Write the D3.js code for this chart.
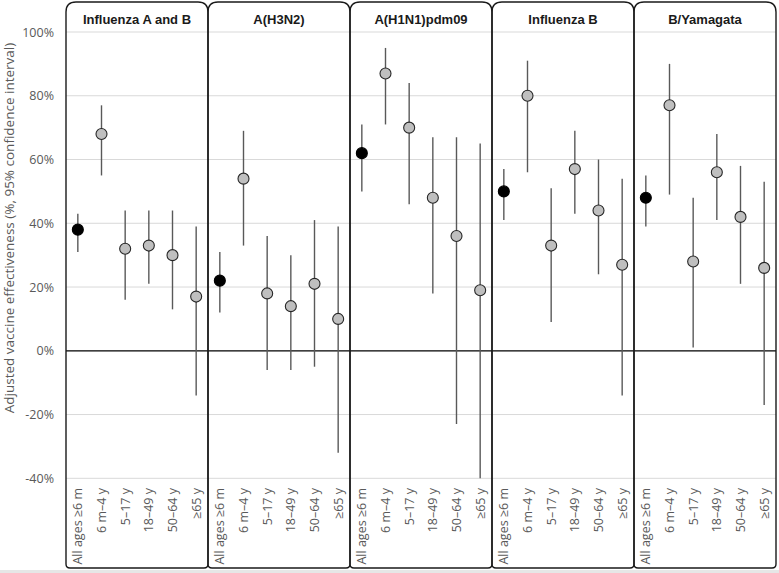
<!DOCTYPE html>
<html><head><meta charset="utf-8">
<script src="https://cdn.jsdelivr.net/npm/d3@7"></script>
<style>body{margin:0;background:#fff}svg{display:block}</style>
</head><body>
<script>
const panels = ["Influenza A and B","A(H3N2)","A(H1N1)pdm09","Influenza B","B/Yamagata"];
const ageGroups = ["All ages \u22656 m","6 m\u20134 y","5\u201317 y","18\u201349 y","50\u201364 y","\u226565 y"];
const yTicks = [-40,-20,0,20,40,60,80,100];
// point estimates, lower and upper CI, per panel (in ageGroups order)
const ve = [[38,68,32,33,30,17],[22,54,18,14,21,10],[62,87,70,48,36,19],[50,80,33,57,44,27],[48,77,28,56,42,26]];
const ciLow = [[31,55,16,21,13,-14],[12,33,-6,-6,-5,-32],[50,71,46,18,-23,-40],[41,56,9,43,24,-14],[39,49,1,41,21,-17]];
const ciHigh = [[43,77,44,44,44,39],[31,69,36,30,41,39],[71,95,84,67,67,65],[57,91,51,69,60,54],[55,90,48,68,58,53]];

const W=779,H=573;
const svg=d3.select("body").append("svg").attr("width",W).attr("height",H);
const keys=[];panels.forEach((p,i)=>ageGroups.forEach((a,j)=>keys.push(i+"|"+j)));
const x=d3.scaleBand().domain(keys).range([66,776]).padding(0);
const y=d3.scaleLinear().domain([-40,100]).range([478.3,32]);
const bw=x.bandwidth();
const cx=(i,j)=>x(i+"|"+j)+bw/2;

svg.append("rect").attr("x",0).attr("y",570).attr("width",W).attr("height",3).attr("fill","#e6e6e6");

// gridlines
svg.append("g").selectAll("line").data(yTicks.filter(d=>d!==0)).join("line")
 .attr("x1",66).attr("x2",776).attr("y1",d=>y(d)).attr("y2",d=>y(d))
 .attr("stroke","#d9d9d9").attr("stroke-width",1);

// y axis labels
const yAxis=d3.axisLeft(y).tickValues(yTicks).tickFormat(d=>d+"%").tickSize(0).tickPadding(0);
const ga=svg.append("g").attr("transform","translate(54,0)").call(yAxis);
ga.select(".domain").remove();
ga.selectAll("text").attr("font-family","Open Sans").attr("font-size","12.5px").attr("fill","#595959");

svg.append("text").attr("transform","translate(14,228) rotate(-90)").attr("text-anchor","middle")
 .attr("font-family","Open Sans").attr("font-size","13.5px").attr("fill","#595959")
 .text("Adjusted vaccine effectiveness (%, 95% confidence interval)");

// zero line
svg.append("line").attr("x1",66).attr("x2",776).attr("y1",y(0)).attr("y2",y(0)).attr("stroke","#000").attr("stroke-width",1.3);

// panels
const boxTop=2,boxBot=568,rt=10,rb=4;
panels.forEach((p,i)=>{
  const l=x(i+"|0"), r=x(i+"|5")+bw;
  const path=`M${l},${boxBot-rb}L${l},${boxTop+rt}Q${l},${boxTop} ${l+rt},${boxTop}L${r-rt},${boxTop}Q${r},${boxTop} ${r},${boxTop+rt}L${r},${boxBot-rb}Q${r},${boxBot} ${r-rb},${boxBot}L${l+rb},${boxBot}Q${l},${boxBot} ${l},${boxBot-rb}Z`;
  svg.append("path").attr("d",path).attr("fill","none").attr("stroke","#1a1a1a").attr("stroke-width",1.4);
  svg.append("text").attr("x",(l+r)/2).attr("y",24).attr("text-anchor","middle")
   .attr("font-family","Liberation Sans, Arial").attr("font-weight","bold").attr("font-size","13px").attr("fill","#1a1a1a").text(p);
  ageGroups.forEach((a,j)=>{
    svg.append("text").attr("transform",`translate(${cx(i,j)+4.5},488) rotate(-90)`).attr("text-anchor","end")
     .attr("font-family","Open Sans").attr("font-size","12.5px").attr("fill","#595959").text(a);
  });
});

// error bars and points
panels.forEach((p,i)=>{
  const g=svg.append("g");
  g.selectAll("line").data(ageGroups).join("line")
   .attr("x1",(d,j)=>cx(i,j)).attr("x2",(d,j)=>cx(i,j))
   .attr("y1",(d,j)=>y(ciLow[i][j])).attr("y2",(d,j)=>y(ciHigh[i][j]))
   .attr("stroke","#595959").attr("stroke-width",1.4);
  g.selectAll("circle").data(ageGroups).join("circle")
   .attr("cx",(d,j)=>cx(i,j)).attr("cy",(d,j)=>y(ve[i][j])).attr("r",5.5)
   .attr("fill",(d,j)=>j===0?"#000":"#bfbfbf").attr("stroke",(d,j)=>j===0?"#000":"#262626").attr("stroke-width",1.1);
});
</script>
</body></html>
